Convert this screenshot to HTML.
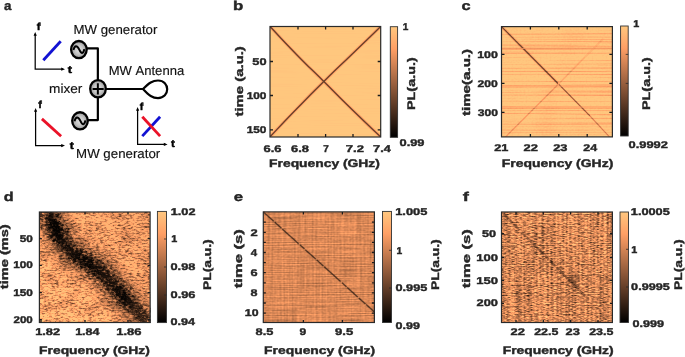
<!DOCTYPE html>
<html><head><meta charset="utf-8"><title>figure</title>
<style>html,body{margin:0;padding:0;background:#fff}svg{display:block}text{font-family:"Liberation Sans", sans-serif;text-rendering:geometricPrecision;font-kerning:none;font-weight:bold;fill:#262626;stroke:#262626;stroke-width:0.4px}.t{font-size:9.8px}.l{font-size:11.0px}.p{font-size:12.8px}.m{font-size:10.3px;fill:#000;stroke:#000}.n{font-size:13px;font-weight:normal;fill:#111;stroke:#111;stroke-width:.15px}</style>
</head><body>
<svg width="685" height="357" viewBox="0 0 685 357">
<rect width="685" height="357" fill="#fff"/>
<defs>
<linearGradient id="cb" x1="0" y1="0" x2="0" y2="1">
<stop offset="0" stop-color="#ffc77f"/><stop offset="0.2" stop-color="#ff9f65"/><stop offset="0.5" stop-color="#9f6340"/><stop offset="1" stop-color="#000"/>
</linearGradient>
</defs>
<g font-family='"Liberation Sans", sans-serif' opacity="0.999">
<text class="p" x="3.9" y="9.8" textLength="7.4" lengthAdjust="spacingAndGlyphs">a</text>
<path d="M35.2,34V69.2H63" stroke="#000" stroke-width="1.25" fill="none"/>
<path d="M33.6,35.8L35.2,32L36.800000000000004,35.8Z" fill="#000"/>
<path d="M61.2,67.60000000000001L65,69.2L61.2,70.8Z" fill="#000"/>
<text class="m" x="36.8" y="30.0" textLength="3.8" lengthAdjust="spacingAndGlyphs">f</text>
<text class="m" x="67.8" y="73.0" textLength="4.3" lengthAdjust="spacingAndGlyphs">t</text>
<path d="M35.6,110V145.6H63" stroke="#000" stroke-width="1.25" fill="none"/>
<path d="M34.0,111.8L35.6,108L37.2,111.8Z" fill="#000"/>
<path d="M61.2,144.0L65,145.6L61.2,147.2Z" fill="#000"/>
<text class="m" x="38.2" y="108.0" textLength="3.6" lengthAdjust="spacingAndGlyphs">f</text>
<text class="m" x="69.8" y="149.0" textLength="4.1" lengthAdjust="spacingAndGlyphs">t</text>
<path d="M137.6,109V144.4H165.6" stroke="#000" stroke-width="1.25" fill="none"/>
<path d="M136.0,110.8L137.6,107L139.2,110.8Z" fill="#000"/>
<path d="M163.79999999999998,142.8L167.6,144.4L163.79999999999998,146.0Z" fill="#000"/>
<text class="m" x="139.8" y="110.0" textLength="3.6" lengthAdjust="spacingAndGlyphs">f</text>
<text class="m" x="170.9" y="147.0" textLength="3.9" lengthAdjust="spacingAndGlyphs">t</text>
<line x1="43.3" y1="60.3" x2="60.7" y2="41.3" stroke="#1212d2" stroke-width="2.8"/>
<line x1="41.9" y1="118.9" x2="61.1" y2="136.3" stroke="#ea1228" stroke-width="2.8"/>
<line x1="142.3" y1="136.1" x2="160.1" y2="116.7" stroke="#1212d2" stroke-width="2.8"/>
<line x1="142.3" y1="116.7" x2="160.1" y2="136.1" stroke="#ea1228" stroke-width="2.8"/>
<path d="M87,48.4H97.85V120.1H88" stroke="#000" stroke-width="2.2" fill="none" stroke-linejoin="round"/>
<path d="M106,89H143" stroke="#000" stroke-width="2.2" fill="none"/>
<path d="M143,89C149,83 152.5,80.5 158,80.5C164,80.5 167.2,84.8 167.2,89.3C167.2,93.6 164,98.1 158,98.1C152.5,98.1 149,95.4 143,89Z" stroke="#000" stroke-width="2.2" fill="none" stroke-linejoin="round"/>
<radialGradient id="gg" cx="0.5" cy="0.5" r="0.5"><stop offset="0" stop-color="#e2e2e2"/><stop offset="0.55" stop-color="#c4c4c4"/><stop offset="1" stop-color="#969696"/></radialGradient>
<ellipse cx="78.9" cy="49.6" rx="7.8" ry="8.6" fill="url(#gg)" stroke="#000" stroke-width="2.3"/>
<path d="M73.40,49.90C74.70,45.20 77.00,44.80 79.30,49.60C81.30,54.00 83.30,54.20 84.30,49.10" stroke="#000" stroke-width="2" fill="none"/>
<ellipse cx="80.0" cy="120.85" rx="7.8" ry="8.6" fill="url(#gg)" stroke="#000" stroke-width="2.3"/>
<path d="M74.50,121.15C75.80,116.45 78.10,116.05 80.40,120.85C82.40,125.25 84.40,125.45 85.40,120.35" stroke="#000" stroke-width="2" fill="none"/>
<ellipse cx="98" cy="88.75" rx="7.8" ry="8.7" fill="url(#gg)" stroke="#000" stroke-width="2.3"/>
<path d="M92.6,89H103.7M97.85,83.3V94.6" stroke="#000" stroke-width="2" fill="none"/>
<text class="n" x="73.5" y="34.4" textLength="83.9" lengthAdjust="spacingAndGlyphs">MW generator</text>
<text class="n" x="108.7" y="75.1" textLength="75.5" lengthAdjust="spacingAndGlyphs">MW Antenna</text>
<text class="n" x="49.1" y="93.2" textLength="33.3" lengthAdjust="spacingAndGlyphs">mixer</text>
<text class="n" x="76.1" y="158.2" textLength="84.1" lengthAdjust="spacingAndGlyphs">MW generator</text>
<text class="p" x="232.9" y="10.1" textLength="10.3" lengthAdjust="spacingAndGlyphs">b</text>
<filter id="fb" filterUnits="userSpaceOnUse" x="270" y="26.5" width="110.69999999999999" height="110.5" color-interpolation-filters="sRGB"><feTurbulence type="fractalNoise" baseFrequency="0.02 0.9" numOctaves="1" seed="4" result="t0"/><feColorMatrix in="t0" type="matrix" values="0.06 0 0 0 0.9700  0.06 0 0 0 0.9700  0.06 0 0 0 0.9700  0 0 0 0 1" result="v0"/><feComposite in="v0" in2="SourceGraphic" operator="arithmetic" k1="1" k2="0" k3="0" k4="0" result="m"/><feComponentTransfer in="m" result="cm"><feFuncR type="linear" slope="1.25"/><feFuncG type="linear" slope="0.7812"/><feFuncB type="linear" slope="0.4975"/></feComponentTransfer></filter>
<g filter="url(#fb)"><rect x="270" y="26.5" width="110.69999999999999" height="110.5" fill="rgb(255,255,255)"/>
<path d="M270.30,26.80C279.03,36.03 278.67,36.27 296.50,54.50C314.33,72.73 305.30,63.17 323.80,81.50C342.30,99.83 333.10,91.10 352.00,109.50C370.90,127.90 371.00,127.63 380.50,136.70M380.40,26.80C370.93,35.93 370.87,35.97 352.00,54.20C333.13,72.43 342.13,63.40 323.80,81.50C305.47,99.60 314.83,90.17 297.00,108.50C279.17,126.83 279.20,127.17 270.30,136.50" stroke="rgb(178,178,178)" stroke-opacity="0.6" stroke-width="3.2" fill="none" stroke-linejoin="round"/>
<path d="M270.30,26.80C279.03,36.03 278.67,36.27 296.50,54.50C314.33,72.73 305.30,63.17 323.80,81.50C342.30,99.83 333.10,91.10 352.00,109.50C370.90,127.90 371.00,127.63 380.50,136.70M380.40,26.80C370.93,35.93 370.87,35.97 352.00,54.20C333.13,72.43 342.13,63.40 323.80,81.50C305.47,99.60 314.83,90.17 297.00,108.50C279.17,126.83 279.20,127.17 270.30,136.50" stroke="rgb(84,84,84)" stroke-width="1.4" fill="none" stroke-linejoin="round"/>
</g>
<rect x="270" y="26.5" width="110.69999999999999" height="110.5" fill="none" stroke="#2a2a2a" stroke-width="1.2"/>
<path d="M298.0,26.5v3M298.0,137v-3M325.6,26.5v3M325.6,137v-3M353.0,26.5v3M353.0,137v-3M270,61.5h3M380.7,61.5h-3M270,95.5h3M380.7,95.5h-3M270,129.8h3M380.7,129.8h-3" stroke="#1c1c1c" stroke-width="1.3" fill="none"/>
<text class="t" x="252.3" y="64.9" textLength="14.2" lengthAdjust="spacingAndGlyphs">50</text>
<text class="t" x="246.7" y="98.9" textLength="19.8" lengthAdjust="spacingAndGlyphs">100</text>
<text class="t" x="246.7" y="133.4" textLength="19.8" lengthAdjust="spacingAndGlyphs">150</text>
<text class="t" x="263.5" y="151.6" textLength="17.9" lengthAdjust="spacingAndGlyphs">6.6</text>
<text class="t" x="291.1" y="151.6" textLength="17.9" lengthAdjust="spacingAndGlyphs">6.8</text>
<text class="t" x="323.2" y="151.6" textLength="5.5" lengthAdjust="spacingAndGlyphs">7</text>
<text class="t" x="345.8" y="151.6" textLength="18.1" lengthAdjust="spacingAndGlyphs">7.2</text>
<text class="t" x="373.1" y="151.6" textLength="17.6" lengthAdjust="spacingAndGlyphs">7.4</text>
<text class="l" x="269.1" y="167.0" textLength="110.8" lengthAdjust="spacingAndGlyphs">Frequency (GHz)</text>
<text class="l" transform="translate(242.6,116.3) rotate(-90)" x="-0.2" textLength="70.3" lengthAdjust="spacingAndGlyphs">time (a.u.)</text>
<rect x="390.3" y="26.7" width="7.300000000000011" height="110.60000000000001" fill="url(#cb)" stroke="#333" stroke-width="0.9"/>
<text class="t" x="402.7" y="30.3" textLength="5.6" lengthAdjust="spacingAndGlyphs">1</text>
<text class="t" x="399.5" y="146.1" textLength="25.0" lengthAdjust="spacingAndGlyphs">0.99</text>
<text class="l" transform="translate(415.2,109.0) rotate(-90)" x="-1.0" textLength="52.7" lengthAdjust="spacingAndGlyphs">PL(a.u.)</text>
<text class="p" x="461.4" y="10.1" textLength="9.1" lengthAdjust="spacingAndGlyphs">c</text>
<filter id="fc" filterUnits="userSpaceOnUse" x="501.5" y="26.6" width="110.89999999999998" height="110.30000000000001" color-interpolation-filters="sRGB"><feTurbulence type="fractalNoise" baseFrequency="0.004 0.95" numOctaves="2" seed="9" result="t0"/><feColorMatrix in="t0" type="matrix" values="0.7 0 0 0 0.6400  0.7 0 0 0 0.6400  0.7 0 0 0 0.6400  0 0 0 0 1" result="v0"/><feTurbulence type="fractalNoise" baseFrequency="0.05 0.02" numOctaves="1" seed="3" result="t1"/><feColorMatrix in="t1" type="matrix" values="1 0 0 0 0  1 0 0 0 0  1 0 0 0 0  0 0 0 0 1" result="n1"/><feComposite in="v0" in2="n1" operator="arithmetic" k1="0" k2="1" k3="0.1" k4="-0.0500" result="v1"/><feTurbulence type="fractalNoise" baseFrequency="0.5 0.6" numOctaves="1" seed="4" result="t2"/><feColorMatrix in="t2" type="matrix" values="1 0 0 0 0  1 0 0 0 0  1 0 0 0 0  0 0 0 0 1" result="n2"/><feComposite in="v1" in2="n2" operator="arithmetic" k1="0" k2="1" k3="0.12" k4="-0.0600" result="v2"/><feComposite in="v2" in2="SourceGraphic" operator="arithmetic" k1="1" k2="0" k3="0" k4="0" result="m"/><feComponentTransfer in="m" result="cm"><feFuncR type="linear" slope="1.25"/><feFuncG type="linear" slope="0.7812"/><feFuncB type="linear" slope="0.4975"/></feComponentTransfer></filter>
<g filter="url(#fc)"><rect x="501.5" y="26.6" width="110.89999999999998" height="110.30000000000001" fill="rgb(255,255,255)"/>
<path d="M501.5,26.6L558.5,84" stroke="rgb(178,178,178)" stroke-opacity="0.5" stroke-width="3" fill="none"/>
<path d="M501.5,26.6L558.5,84" stroke="rgb(92,92,92)" stroke-width="1.3" fill="none"/>
<path d="M558.5,84L590,116" stroke="rgb(128,128,128)" stroke-width="1.3" fill="none"/>
<path d="M590,116L609.5,136.9" stroke="rgb(173,173,173)" stroke-width="1.3" fill="none"/>
<path d="M505.5,136.9L558.5,84" stroke="rgb(194,194,194)" stroke-width="1.3" fill="none"/>
<path d="M558.5,84L585,57" stroke="rgb(219,219,219)" stroke-width="1.6" fill="none"/>
<path d="M585,57L603,39" stroke="rgb(235,235,235)" stroke-width="2.2" fill="none"/>
<path d="M501.5,48.6H612.4M501.5,86H612.4M501.5,107H612.4" stroke="rgb(184,184,184)" stroke-width="0.9" fill="none"/>
</g>
<rect x="501.5" y="26.6" width="110.89999999999998" height="110.30000000000001" fill="none" stroke="#2a2a2a" stroke-width="1.2"/>
<path d="M530.4,26.6v3M530.4,136.9v-3M558.8,26.6v3M558.8,136.9v-3M587.2,26.6v3M587.2,136.9v-3M501.5,54.4h3M612.4,54.4h-3M501.5,83.4h3M612.4,83.4h-3M501.5,112.4h3M612.4,112.4h-3" stroke="#1c1c1c" stroke-width="1.3" fill="none"/>
<text class="t" x="477.2" y="57.9" textLength="20.7" lengthAdjust="spacingAndGlyphs">100</text>
<text class="t" x="477.6" y="86.9" textLength="20.3" lengthAdjust="spacingAndGlyphs">200</text>
<text class="t" x="477.7" y="115.9" textLength="20.2" lengthAdjust="spacingAndGlyphs">300</text>
<text class="t" x="494.2" y="151.4" textLength="14.2" lengthAdjust="spacingAndGlyphs">21</text>
<text class="t" x="523.6" y="151.4" textLength="14.4" lengthAdjust="spacingAndGlyphs">22</text>
<text class="t" x="553.2" y="151.4" textLength="14.3" lengthAdjust="spacingAndGlyphs">23</text>
<text class="t" x="583.2" y="151.4" textLength="13.9" lengthAdjust="spacingAndGlyphs">24</text>
<text class="l" x="501.7" y="167.0" textLength="111.6" lengthAdjust="spacingAndGlyphs">Frequency (GHz)</text>
<text class="l" transform="translate(470.4,115.9) rotate(-90)" x="-0.2" textLength="67.2" lengthAdjust="spacingAndGlyphs">time(a.u.)</text>
<rect x="620.6" y="26" width="7.600000000000023" height="110" fill="url(#cb)" stroke="#333" stroke-width="0.9"/>
<path d="M628.2,54.4h-2.5M628.2,83.4h-2.5" stroke="#2a2a2a" stroke-width="0.8" fill="none"/>
<text class="t" x="633.3" y="27.2" textLength="6.0" lengthAdjust="spacingAndGlyphs">1</text>
<text class="t" x="628.5" y="148.1" textLength="39.4" lengthAdjust="spacingAndGlyphs">0.9992</text>
<text class="l" transform="translate(650.2,109.0) rotate(-90)" x="-1.0" textLength="52.7" lengthAdjust="spacingAndGlyphs">PL(a.u.)</text>
<text class="p" x="3.7" y="200.7" textLength="9.9" lengthAdjust="spacingAndGlyphs">d</text>
<filter id="bl2" x="-50%" y="-50%" width="200%" height="200%"><feGaussianBlur stdDeviation="2"/></filter>
<filter id="bl4" x="-30%" y="-30%" width="160%" height="160%"><feGaussianBlur stdDeviation="4" result="bb"/><feTurbulence type="fractalNoise" baseFrequency="0.3 0.45" numOctaves="3" seed="3" result="tn"/><feDisplacementMap in="bb" in2="tn" scale="18" xChannelSelector="R" yChannelSelector="G" result="dd"/><feComponentTransfer in="dd"><feFuncA type="linear" slope="1.1" intercept="-0.03"/></feComponentTransfer></filter>
<filter id="fd" filterUnits="userSpaceOnUse" x="39.4" y="212" width="110.69999999999999" height="110.5" color-interpolation-filters="sRGB"><feTurbulence type="fractalNoise" baseFrequency="0.27 0.6" numOctaves="3" seed="11" result="t0"/><feColorMatrix in="t0" type="matrix" values="1.35 0 0 0 0.1850  1.35 0 0 0 0.1850  1.35 0 0 0 0.1850  0 0 0 0 1" result="v0"/><feTurbulence type="fractalNoise" baseFrequency="0.05 0.08" numOctaves="2" seed="5" result="t1"/><feColorMatrix in="t1" type="matrix" values="1 0 0 0 0  1 0 0 0 0  1 0 0 0 0  0 0 0 0 1" result="n1"/><feComposite in="v0" in2="n1" operator="arithmetic" k1="0" k2="1" k3="0.6" k4="-0.3000" result="v1"/><feGaussianBlur in="v1" stdDeviation="0.4 0.25" result="vb"/><feComposite in="vb" in2="SourceGraphic" operator="arithmetic" k1="1" k2="0" k3="0" k4="0" result="m"/><feComponentTransfer in="m" result="cm"><feFuncR type="linear" slope="1.25"/><feFuncG type="linear" slope="0.7812"/><feFuncB type="linear" slope="0.4975"/></feComponentTransfer><feGaussianBlur in="cm" stdDeviation="0.45 0.35"/></filter>
<linearGradient id="gd" x1="0" y1="1" x2="1" y2="0"><stop offset="0" stop-color="#fff"/><stop offset="0.35" stop-color="#f4f4f4"/><stop offset="1" stop-color="#dcdcdc"/></linearGradient>
<g filter="url(#fd)"><rect x="39.4" y="212" width="110.69999999999999" height="110.5" fill="url(#gd)"/>
<g filter="url(#bl4)"><path d="M49.00,213.00C51.17,217.33 50.83,216.00 55.50,226.00C60.17,236.00 56.83,233.50 63.00,243.00C69.17,252.50 66.67,248.67 74.00,254.50C81.33,260.33 78.00,256.00 85.00,260.50C92.00,265.00 89.00,263.50 95.00,268.00C101.00,272.50 95.67,266.67 103.00,274.00C110.33,281.33 106.67,279.00 117.00,290.00C127.33,301.00 123.00,295.33 134.00,307.00C145.00,318.67 144.67,319.00 150.00,325.00" stroke="#000" stroke-opacity="0.2" stroke-width="42" fill="none" stroke-linejoin="round"/>
<path d="M49,214L55.5,226L63,243L74,254.5L85,260.5L95,268L103,274L117,290L125,298" stroke="#000" stroke-opacity="0.88" stroke-width="15" fill="none" stroke-linejoin="round" stroke-linecap="round"/>
<path d="M117,290L134,307L150,325" stroke="#000" stroke-opacity="0.88" stroke-width="11" fill="none" stroke-linejoin="round"/>
<ellipse cx="54" cy="229" rx="9" ry="14" transform="rotate(-20 54 229)" fill="#000" fill-opacity="0.6"/>
<ellipse cx="86" cy="261" rx="17" ry="7" transform="rotate(25 86 261)" fill="#000" fill-opacity="0.6"/>
</g>
</g>
<rect x="39.4" y="212" width="110.69999999999999" height="110.5" fill="none" stroke="#2a2a2a" stroke-width="1.2"/>
<path d="M41.0,212v2.5M41.0,322.5v-2.5M85.0,212v2.5M85.0,322.5v-2.5M128.0,212v2.5M128.0,322.5v-2.5M39.4,238.6h2.5M150.1,238.6h-2.5M39.4,265.4h2.5M150.1,265.4h-2.5M39.4,292.6h2.5M150.1,292.6h-2.5M39.4,319.6h2.5M150.1,319.6h-2.5" stroke="#1c1c1c" stroke-width="1.3" fill="none"/>
<text class="t" x="19.7" y="242.4" textLength="13.1" lengthAdjust="spacingAndGlyphs">50</text>
<text class="t" x="13.2" y="268.4" textLength="19.7" lengthAdjust="spacingAndGlyphs">100</text>
<text class="t" x="13.2" y="296.4" textLength="19.7" lengthAdjust="spacingAndGlyphs">150</text>
<text class="t" x="13.5" y="322.9" textLength="19.3" lengthAdjust="spacingAndGlyphs">200</text>
<text class="t" x="35.2" y="335.2" textLength="24.9" lengthAdjust="spacingAndGlyphs">1.82</text>
<text class="t" x="75.2" y="335.2" textLength="24.3" lengthAdjust="spacingAndGlyphs">1.84</text>
<text class="t" x="116.2" y="335.2" textLength="25.3" lengthAdjust="spacingAndGlyphs">1.86</text>
<text class="l" x="39.1" y="354.0" textLength="110.8" lengthAdjust="spacingAndGlyphs">Frequency (GHz)</text>
<text class="l" transform="translate(8.2,289.0) rotate(-90)" x="-0.2" textLength="64.9" lengthAdjust="spacingAndGlyphs">time (ms)</text>
<rect x="157.4" y="211.4" width="9.099999999999994" height="111.20000000000002" fill="url(#cb)" stroke="#333" stroke-width="0.9"/>
<path d="M166.5,239.0h-2.5M166.5,267.0h-2.5M166.5,295.0h-2.5" stroke="#2a2a2a" stroke-width="0.8" fill="none"/>
<text class="t" x="170.8" y="215.4" textLength="24.7" lengthAdjust="spacingAndGlyphs">1.02</text>
<text class="t" x="171.3" y="242.4" textLength="6.0" lengthAdjust="spacingAndGlyphs">1</text>
<text class="t" x="170.5" y="270.4" textLength="24.9" lengthAdjust="spacingAndGlyphs">0.98</text>
<text class="t" x="170.5" y="297.9" textLength="25.0" lengthAdjust="spacingAndGlyphs">0.96</text>
<text class="t" x="170.5" y="325.4" textLength="24.6" lengthAdjust="spacingAndGlyphs">0.94</text>
<text class="l" transform="translate(211.4,289.0) rotate(-90)" x="-0.9" textLength="50.6" lengthAdjust="spacingAndGlyphs">PL(a.u.)</text>
<text class="p" x="233.7" y="200.7" textLength="9.3" lengthAdjust="spacingAndGlyphs">e</text>
<filter id="fe" filterUnits="userSpaceOnUse" x="263.3" y="211.9" width="111.09999999999997" height="110.6" color-interpolation-filters="sRGB"><feTurbulence type="fractalNoise" baseFrequency="0.03 0.9" numOctaves="1" seed="5" result="t0"/><feColorMatrix in="t0" type="matrix" values="0.4 0 0 0 0.4850  0.4 0 0 0 0.4850  0.4 0 0 0 0.4850  0 0 0 0 1" result="v0"/><feTurbulence type="fractalNoise" baseFrequency="0.5 0.02" numOctaves="1" seed="8" result="t1"/><feColorMatrix in="t1" type="matrix" values="1 0 0 0 0  1 0 0 0 0  1 0 0 0 0  0 0 0 0 1" result="n1"/><feComposite in="v0" in2="n1" operator="arithmetic" k1="0" k2="1" k3="0.22" k4="-0.1100" result="v1"/><feTurbulence type="fractalNoise" baseFrequency="0.4 0.6" numOctaves="1" seed="2" result="t2"/><feColorMatrix in="t2" type="matrix" values="1 0 0 0 0  1 0 0 0 0  1 0 0 0 0  0 0 0 0 1" result="n2"/><feComposite in="v1" in2="n2" operator="arithmetic" k1="0" k2="1" k3="0.18" k4="-0.0900" result="v2"/><feComposite in="v2" in2="SourceGraphic" operator="arithmetic" k1="1" k2="0" k3="0" k4="0" result="m"/><feComponentTransfer in="m" result="cm"><feFuncR type="linear" slope="1.25"/><feFuncG type="linear" slope="0.7812"/><feFuncB type="linear" slope="0.4975"/></feComponentTransfer></filter>
<g filter="url(#fe)"><rect x="263.3" y="211.9" width="111.09999999999997" height="110.6" fill="#fff"/>
<path d="M263.3,211.9L374.4,312" stroke="rgb(217,217,217)" stroke-opacity="0.5" stroke-width="2.6" fill="none"/>
<path d="M263.3,211.9L374.4,312" stroke="rgb(102,102,102)" stroke-width="1.3" fill="none" stroke-dasharray="14 1.5 9 1 22 2 6 1"/>
</g>
<rect x="263.3" y="211.9" width="111.09999999999997" height="110.6" fill="none" stroke="#2a2a2a" stroke-width="1.2"/>
<path d="M303.4,211.9v2.5M303.4,322.5v-2.5M342.4,211.9v2.5M342.4,322.5v-2.5M263.3,222.2h2.5M374.4,222.2h-2.5M263.3,232.3h2.5M374.4,232.3h-2.5M263.3,242.4h2.5M374.4,242.4h-2.5M263.3,252.5h2.5M374.4,252.5h-2.5M263.3,262.6h2.5M374.4,262.6h-2.5M263.3,272.7h2.5M374.4,272.7h-2.5M263.3,282.8h2.5M374.4,282.8h-2.5M263.3,292.9h2.5M374.4,292.9h-2.5M263.3,303.0h2.5M374.4,303.0h-2.5M263.3,313.1h2.5M374.4,313.1h-2.5" stroke="#1c1c1c" stroke-width="1.3" fill="none"/>
<text class="t" x="250.6" y="235.7" textLength="7.2" lengthAdjust="spacingAndGlyphs">2</text>
<text class="t" x="250.8" y="255.6" textLength="6.4" lengthAdjust="spacingAndGlyphs">4</text>
<text class="t" x="250.5" y="275.8" textLength="7.1" lengthAdjust="spacingAndGlyphs">6</text>
<text class="t" x="250.6" y="296.0" textLength="7.0" lengthAdjust="spacingAndGlyphs">8</text>
<text class="t" x="244.8" y="316.4" textLength="13.7" lengthAdjust="spacingAndGlyphs">10</text>
<text class="t" x="255.6" y="335.2" textLength="17.8" lengthAdjust="spacingAndGlyphs">8.5</text>
<text class="t" x="299.6" y="335.2" textLength="6.7" lengthAdjust="spacingAndGlyphs">9</text>
<text class="t" x="335.1" y="335.2" textLength="18.2" lengthAdjust="spacingAndGlyphs">9.5</text>
<text class="l" x="264.1" y="354.0" textLength="111.0" lengthAdjust="spacingAndGlyphs">Frequency (GHz)</text>
<text class="l" transform="translate(242.1,288.0) rotate(-90)" x="-0.2" textLength="59.0" lengthAdjust="spacingAndGlyphs">time (s)</text>
<rect x="382.5" y="211.4" width="9.0" height="111.1" fill="url(#cb)" stroke="#333" stroke-width="0.9"/>
<path d="M391.5,250.3h-2.5M391.5,288.0h-2.5" stroke="#2a2a2a" stroke-width="0.8" fill="none"/>
<text class="t" x="395.2" y="215.4" textLength="32.2" lengthAdjust="spacingAndGlyphs">1.005</text>
<text class="t" x="396.4" y="253.7" textLength="5.7" lengthAdjust="spacingAndGlyphs">1</text>
<text class="t" x="395.5" y="291.4" textLength="31.9" lengthAdjust="spacingAndGlyphs">0.995</text>
<text class="t" x="395.5" y="329.4" textLength="24.4" lengthAdjust="spacingAndGlyphs">0.99</text>
<text class="l" transform="translate(439.2,289.0) rotate(-90)" x="-0.9" textLength="50.6" lengthAdjust="spacingAndGlyphs">PL(a.u.)</text>
<text class="p" x="462.7" y="200.7" textLength="6.1" lengthAdjust="spacingAndGlyphs">f</text>
<filter id="ff" filterUnits="userSpaceOnUse" x="501.5" y="212" width="110.89999999999998" height="110.5" color-interpolation-filters="sRGB"><feTurbulence type="fractalNoise" baseFrequency="0.26 0.9" numOctaves="2" seed="21" result="t0"/><feColorMatrix in="t0" type="matrix" values="1.1 0 0 0 0.1150  1.1 0 0 0 0.1150  1.1 0 0 0 0.1150  0 0 0 0 1" result="v0"/><feTurbulence type="fractalNoise" baseFrequency="0.45 0.015" numOctaves="1" seed="2" result="t1"/><feColorMatrix in="t1" type="matrix" values="1 0 0 0 0  1 0 0 0 0  1 0 0 0 0  0 0 0 0 1" result="n1"/><feComposite in="v0" in2="n1" operator="arithmetic" k1="0" k2="1" k3="0.55" k4="-0.2750" result="v1"/><feTurbulence type="fractalNoise" baseFrequency="0.012 0.9" numOctaves="1" seed="6" result="t2"/><feColorMatrix in="t2" type="matrix" values="1 0 0 0 0  1 0 0 0 0  1 0 0 0 0  0 0 0 0 1" result="n2"/><feComposite in="v1" in2="n2" operator="arithmetic" k1="0" k2="1" k3="0.35" k4="-0.1750" result="v2"/><feComposite in="v2" in2="SourceGraphic" operator="arithmetic" k1="1" k2="0" k3="0" k4="0" result="m"/><feComponentTransfer in="m" result="cm"><feFuncR type="linear" slope="1.25"/><feFuncG type="linear" slope="0.7812"/><feFuncB type="linear" slope="0.4975"/></feComponentTransfer><feGaussianBlur in="cm" stdDeviation="0.7 0.5"/></filter>
<g filter="url(#ff)"><rect x="501.5" y="212" width="110.89999999999998" height="110.5" fill="#fff"/>
<path d="M503.5,214L585,296" stroke="#000" stroke-opacity="0.3" stroke-width="2.2" fill="none" stroke-dasharray="7 2 4 1 9 3 5 2"/>
<path d="M503.5,214L600,311" stroke="#000" stroke-opacity="0.12" stroke-width="2.5" fill="none"/>
<g filter="url(#bl2)"><ellipse cx="573" cy="280" rx="5" ry="6" fill="#000" fill-opacity="0.3"/></g>
</g>
<rect x="501.5" y="212" width="110.89999999999998" height="110.5" fill="none" stroke="#2a2a2a" stroke-width="1.2"/>
<path d="M516.0,212v2.5M516.0,322.5v-2.5M543.3,212v2.5M543.3,322.5v-2.5M570.6,212v2.5M570.6,322.5v-2.5M598.0,212v2.5M598.0,322.5v-2.5M501.5,233.6h2.5M612.4,233.6h-2.5M501.5,257.4h2.5M612.4,257.4h-2.5M501.5,280.4h2.5M612.4,280.4h-2.5M501.5,303.4h2.5M612.4,303.4h-2.5" stroke="#1c1c1c" stroke-width="1.3" fill="none"/>
<text class="t" x="482.0" y="236.9" textLength="14.1" lengthAdjust="spacingAndGlyphs">50</text>
<text class="t" x="476.2" y="260.9" textLength="21.8" lengthAdjust="spacingAndGlyphs">100</text>
<text class="t" x="476.2" y="283.9" textLength="21.8" lengthAdjust="spacingAndGlyphs">150</text>
<text class="t" x="476.6" y="306.4" textLength="21.4" lengthAdjust="spacingAndGlyphs">200</text>
<text class="t" x="510.6" y="335.2" textLength="14.4" lengthAdjust="spacingAndGlyphs">22</text>
<text class="t" x="534.2" y="335.2" textLength="24.2" lengthAdjust="spacingAndGlyphs">22.5</text>
<text class="t" x="565.6" y="335.2" textLength="14.3" lengthAdjust="spacingAndGlyphs">23</text>
<text class="t" x="589.2" y="335.2" textLength="24.2" lengthAdjust="spacingAndGlyphs">23.5</text>
<text class="l" x="502.7" y="354.0" textLength="111.0" lengthAdjust="spacingAndGlyphs">Frequency (GHz)</text>
<text class="l" transform="translate(470.2,288.0) rotate(-90)" x="-0.2" textLength="59.0" lengthAdjust="spacingAndGlyphs">time (s)</text>
<rect x="620" y="212" width="8.5" height="110.5" fill="url(#cb)" stroke="#333" stroke-width="0.9"/>
<path d="M628.5,249.3h-2.5M628.5,287.0h-2.5" stroke="#2a2a2a" stroke-width="0.8" fill="none"/>
<text class="t" x="630.8" y="215.4" textLength="39.0" lengthAdjust="spacingAndGlyphs">1.0005</text>
<text class="t" x="631.3" y="252.7" textLength="6.0" lengthAdjust="spacingAndGlyphs">1</text>
<text class="t" x="631.1" y="290.4" textLength="38.7" lengthAdjust="spacingAndGlyphs">0.9995</text>
<text class="t" x="632.5" y="326.9" textLength="31.6" lengthAdjust="spacingAndGlyphs">0.999</text>
<text class="l" transform="translate(682.4,289.0) rotate(-90)" x="-0.9" textLength="50.6" lengthAdjust="spacingAndGlyphs">PL(a.u.)</text>
</g>
</svg>
</body></html>
